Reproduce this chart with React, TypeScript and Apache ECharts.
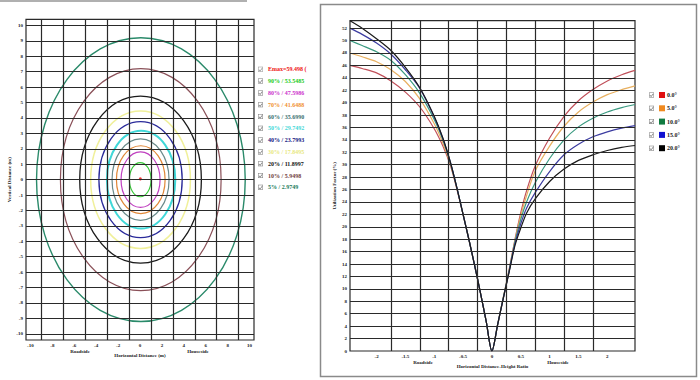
import React, { useEffect, useRef } from "react";
import * as echarts from "echarts";

// ---------- Left chart: isolux contours ----------
const emaxLabel = "Emax=59.498 (";
const emaxPoint = [0.03, 0.05];
const contourLabels = [
  "90% / 53.5485",
  "80% / 47.5986",
  "70% / 41.6488",
  "60% / 35.6990",
  "50% / 29.7492",
  "40% / 23.7993",
  "30% / 17.8495",
  "20% / 11.8997",
  "10% / 5.9498",
  "5% / 2.9749",
];
const contourCenterX = [0.02, 0.05, 0.07, 0.05, 0.1, 0.05, 0.05, 0.05, 0.07, 0.08];
const contourCenterY = [0, 0, 0, 0, 0, 0, 0, 0, 0, 0];
const contourHalfWidth = [0.99, 1.78, 2.22, 2.6, 3.12, 3.8, 4.55, 5.55, 7.33, 9.52];
const contourHalfHeight = [1.11, 1.8, 2.2, 2.64, 3.17, 3.76, 4.46, 5.42, 7.2, 9.2];
const contourStroke = ["#38c838", "#c040c0", "#e08838", "#6a8a8a", "#40d8d8", "#2a2a9a", "#f0f09a", "#1a1a1a", "#8a5058", "#2a8a6a"];
const contourTextColor = ["#22cc22", "#cc33cc", "#f09030", "#3a7070", "#44d8d8", "#101080", "#e8e880", "#111111", "#704040", "#1a7a5a"];
const contourWidth = [1.2, 1.2, 1.2, 1.2, 2, 1.3, 1.5, 1.3, 1.2, 1.4];

const leftXLabels = [-10, -8, -6, -4, -2, 0, 2, 4, 6, 8, 10];
const leftXGrid = [-9, -7, -5, -3, -1, 1, 3, 5, 7, 9];
const leftYLabels = [-10, -9, -8, -7, -6, -5, -4, -3, -2, -1, 0, 1, 2, 3, 4, 5, 6, 7, 8, 9, 10];
const leftYGrid = [-10, -9, -8, -7, -6, -5, -4, -3, -2, -1, 0, 1, 2, 3, 4, 5, 6, 7, 8, 9, 10];

// ---------- Right chart: utilization factor ----------
const angleNames = ["0.0°", "5.0°", "10.0°", "15.0°", "20.0°"];
const ratioLeftX = [-2.46, -2.25, -2.0, -1.75, -1.5, -1.25, -1.0, -0.85, -0.72, -0.6, -0.5, -0.4, -0.3, -0.2, -0.1, 0];
const ratioRightX = [0.1, 0.2, 0.3, 0.4, 0.5, 0.6, 0.75, 1.0, 1.25, 1.5, 1.75, 2.0, 2.25, 2.48];

const uf0Left = [46.0, 45.5, 44.8, 43.5, 41.7, 39.3, 35.8, 33.0, 29.9, 25.8, 22.0, 18.0, 13.8, 9.4, 4.8, 0];
const uf5Left = [48.0, 47.4, 46.6, 45.3, 43.4, 40.6, 36.6, 33.5, 30.1, 25.9, 22.0, 18.0, 13.8, 9.4, 4.8, 0];
const uf10Left = [50.0, 49.2, 48.2, 46.8, 44.5, 41.5, 37.3, 34.0, 30.3, 26.0, 22.0, 18.0, 13.8, 9.4, 4.8, 0];
const uf15Left = [52.0, 51.0, 49.6, 47.8, 45.3, 42.3, 37.7, 34.2, 30.4, 26.0, 22.0, 18.0, 13.8, 9.4, 4.8, 0];
const uf20Left = [53.2, 52.0, 50.3, 48.4, 45.7, 42.4, 37.8, 34.3, 30.4, 26.0, 22.0, 18.0, 13.8, 9.4, 4.8, 0];

const uf0Right = [4.3, 8.7, 13.2, 18.0, 22.3, 25.8, 29.8, 34.3, 37.8, 40.3, 42.1, 43.5, 44.5, 45.2];
const uf5Right = [4.3, 8.7, 13.1, 17.8, 21.8, 25.0, 29.0, 33.0, 36.2, 38.5, 40.1, 41.3, 42.1, 42.7];
const uf10Right = [4.3, 8.7, 13.0, 17.6, 21.2, 24.0, 27.1, 31.0, 34.0, 36.1, 37.5, 38.5, 39.2, 39.7];
const uf15Right = [4.3, 8.6, 12.9, 17.3, 20.5, 23.0, 25.5, 28.9, 31.6, 33.3, 34.5, 35.3, 35.9, 36.3];
const uf20Right = [4.3, 8.6, 12.8, 17.0, 19.8, 22.2, 24.5, 27.3, 29.3, 30.7, 31.6, 32.3, 32.8, 33.1];

const ufLeft = [uf0Left, uf5Left, uf10Left, uf15Left, uf20Left];
const ufRight = [uf0Right, uf5Right, uf10Right, uf15Right, uf20Right];
const curveColors = ["#c0505a", "#e8b060", "#3a9a80", "#3c3ca0", "#1a1a1a"];
const legendSquareColors = ["#e01010", "#f08a20", "#107a40", "#1010d0", "#000000"];

const rightXLabels = [-2, -1.5, -1, -0.5, 0, 0.5, 1, 1.5, 2];
const rightXGrid = [-1.75, -1.25, -0.75, -0.25, 0.25, 0.75, 1.25, 1.75];
const rightYLabels = [0, 2, 4, 6, 8, 10, 12, 14, 16, 18, 20, 22, 24, 26, 28, 30, 32, 34, 36, 38, 40, 42, 44, 46, 48, 50, 52];
const rightYGrid = [2, 4, 6, 8, 10, 12, 14, 16, 18, 20, 22, 24, 26, 28, 30, 32, 34, 36, 38, 40, 42, 44, 46, 48, 50, 52];

const CHECK =
  "path://M0,0H10V10H0Z M1,1V9H9V1Z M2.2,5.2L4.2,7.2L7.8,2.4L8.8,3.4L4.3,9.2L1.2,6.2Z";
const FONT = "Liberation Serif";

const tickLabel = {
  fontSize: 5,
  fontWeight: "bold" as const,
  color: "#1a1a1a",
  margin: 3,
  fontFamily: FONT,
};
const nameStyle = { fontSize: 5, fontWeight: "bold" as const, color: "#1a1a1a", fontFamily: FONT };

function gridLineSeries(xi: number, xs: number[], ys: number[]) {
  return {
    type: "line",
    xAxisIndex: xi,
    yAxisIndex: xi,
    data: [],
    z: 1,
    silent: true,
    markLine: {
      silent: true,
      symbol: ["none", "none"],
      label: { show: false },
      emphasis: { disabled: true },
      lineStyle: { color: "#2a2a2a", width: 1.2, type: "solid" },
      data: [...xs.map((v) => ({ xAxis: v })), ...ys.map((v) => ({ yAxis: v }))],
    },
  };
}

export default function App() {
  const ref = useRef<HTMLDivElement>(null);
  useEffect(() => {
    if (!ref.current) return;
    const chart = echarts.init(ref.current, null, { renderer: "svg" });

    const contourSeries = contourLabels.map((name, i) => ({
      type: "custom",
      name,
      xAxisIndex: 0,
      yAxisIndex: 0,
      z: 3,
      silent: true,
      encode: { x: 0, y: 1 },
      data: [[contourCenterX[i], contourCenterY[i], contourHalfWidth[i], contourHalfHeight[i]]],
      renderItem: (_p: any, api: any) => {
        const c = api.coord([api.value(0), api.value(1)]);
        const s = api.size([api.value(2), api.value(3)]);
        return {
          type: "ellipse",
          shape: { cx: c[0], cy: c[1], rx: s[0], ry: s[1] },
          style: { fill: "none", stroke: contourStroke[i], lineWidth: contourWidth[i] },
        };
      },
    }));

    const curveSeries = angleNames.map((name, i) => ({
      type: "line",
      name,
      xAxisIndex: 1,
      yAxisIndex: 1,
      z: 3,
      silent: true,
      showSymbol: false,
      smooth: 0.3,
      lineStyle: { color: curveColors[i], width: 1.2 },
      itemStyle: { color: curveColors[i] },
      data: [
        ...ratioLeftX.map((x, k) => [x, ufLeft[i][k]]),
        ...ratioRightX.map((x, k) => [x, ufRight[i][k]]),
      ],
    }));

    const richRight: any = {
      t: { fontSize: 6, fontWeight: "bold", color: "#222", fontFamily: FONT, padding: [0, 0, 0, 2] },
    };
    legendSquareColors.forEach((c, i) => {
      richRight["s" + i] = { width: 6, height: 6, backgroundColor: c };
    });

    const option: any = {
      animation: false,
      backgroundColor: "#ffffff",
      textStyle: { fontFamily: FONT },
      grid: [
        { left: 26, top: 19.3, width: 228, height: 320.7, show: true, borderColor: "#2a2a2a", borderWidth: 1.2, backgroundColor: "transparent" },
        { left: 350, top: 20.7, width: 285, height: 330.3, show: true, borderColor: "#2a2a2a", borderWidth: 1.2, backgroundColor: "transparent" },
      ],
      xAxis: [
        {
          type: "value",
          gridIndex: 0,
          min: -10.4,
          max: 10.4,
          axisLine: { show: false },
          axisTick: { show: false },
          splitLine: { show: false },
          axisLabel: { ...tickLabel, customValues: leftXLabels },
          name: "Horizontal Distance (m)",
          nameLocation: "middle",
          nameGap: 12,
          nameTextStyle: nameStyle,
        },
        {
          type: "value",
          gridIndex: 1,
          min: -2.46,
          max: 2.48,
          axisLine: { show: false },
          axisTick: { show: false },
          splitLine: { show: false },
          axisLabel: { ...tickLabel, customValues: rightXLabels, formatter: (v: number) => String(v) },
          name: "Horizontal Distance-Height Ratio",
          nameLocation: "middle",
          nameGap: 12,
          nameTextStyle: nameStyle,
        },
      ],
      yAxis: [
        {
          type: "value",
          gridIndex: 0,
          min: -10.4,
          max: 10.4,
          axisLine: { show: false },
          axisTick: { show: false },
          splitLine: { show: false },
          axisLabel: { ...tickLabel, customValues: leftYLabels },
          name: "Vertical Distance (m)",
          nameLocation: "middle",
          nameGap: 11,
          nameTextStyle: nameStyle,
        },
        {
          type: "value",
          gridIndex: 1,
          min: 0,
          max: 53.2,
          axisLine: { show: false },
          axisTick: { show: false },
          splitLine: { show: false },
          axisLabel: { ...tickLabel, customValues: rightYLabels },
          name: "Utilization Factor (%)",
          nameLocation: "middle",
          nameGap: 13,
          nameTextStyle: nameStyle,
        },
      ],
      legend: [
        {
          orient: "vertical",
          left: 253,
          top: 60.8,
          itemWidth: 5,
          itemHeight: 5,
          itemGap: 4.8,
          icon: CHECK,
          selectedMode: false,
          itemStyle: { color: "#777", borderWidth: 0 },
          textStyle: { fontSize: 6, fontWeight: "bold", fontFamily: FONT, lineHeight: 7 },
          data: [
            { name: emaxLabel, textStyle: { color: "#ee1111" } },
            ...contourLabels.map((n, i) => ({ name: n, textStyle: { color: contourTextColor[i] } })),
          ],
        },
        {
          orient: "vertical",
          left: 644,
          top: 86.5,
          itemWidth: 5,
          itemHeight: 5,
          itemGap: 6.3,
          icon: CHECK,
          selectedMode: false,
          itemStyle: { color: "#777", borderWidth: 0 },
          textStyle: { fontSize: 6, fontWeight: "bold", fontFamily: FONT, lineHeight: 7, rich: richRight },
          formatter: (name: string) => {
            const i = angleNames.indexOf(name);
            return `{s${i}|}{t|${name}}`;
          },
          data: angleNames,
        },
      ],
      graphic: [
        { type: "rect", silent: true, shape: { x: 320.5, y: 4.5, width: 376, height: 372 }, style: { fill: "none", stroke: "#8a8a8a", lineWidth: 1.5 } },
        { type: "line", silent: true, shape: { x1: 0, y1: 1, x2: 247, y2: 1 }, style: { stroke: "#b0b0b0", lineWidth: 2 } },
        { type: "text", silent: true, x: 80, y: 349, style: { text: "Roadside", fontSize: 5, fontWeight: "bold", fontFamily: FONT, fill: "#1a1a1a", align: "center" } },
        { type: "text", silent: true, x: 198, y: 349, style: { text: "Houseside", fontSize: 5, fontWeight: "bold", fontFamily: FONT, fill: "#1a1a1a", align: "center" } },
        { type: "text", silent: true, x: 423, y: 360, style: { text: "Roadside", fontSize: 5, fontWeight: "bold", fontFamily: FONT, fill: "#1a1a1a", align: "center" } },
        { type: "text", silent: true, x: 558, y: 360, style: { text: "Houseside", fontSize: 5, fontWeight: "bold", fontFamily: FONT, fill: "#1a1a1a", align: "center" } },
      ],
      series: [
        gridLineSeries(0, leftXGrid, leftYGrid),
        ...contourSeries,
        {
          type: "scatter",
          name: emaxLabel,
          xAxisIndex: 0,
          yAxisIndex: 0,
          z: 4,
          silent: true,
          symbolSize: 3,
          itemStyle: { color: "#ee1111" },
          data: [emaxPoint],
        },
        gridLineSeries(1, rightXGrid, rightYGrid),
        ...curveSeries,
      ],
    };
    chart.setOption(option);
    return () => chart.dispose();
  }, []);
  return (
    <div
      ref={ref}
      style={{ position: "fixed", left: 0, top: 0, width: 700, height: 380, background: "#fff" }}
    />
  );
}
